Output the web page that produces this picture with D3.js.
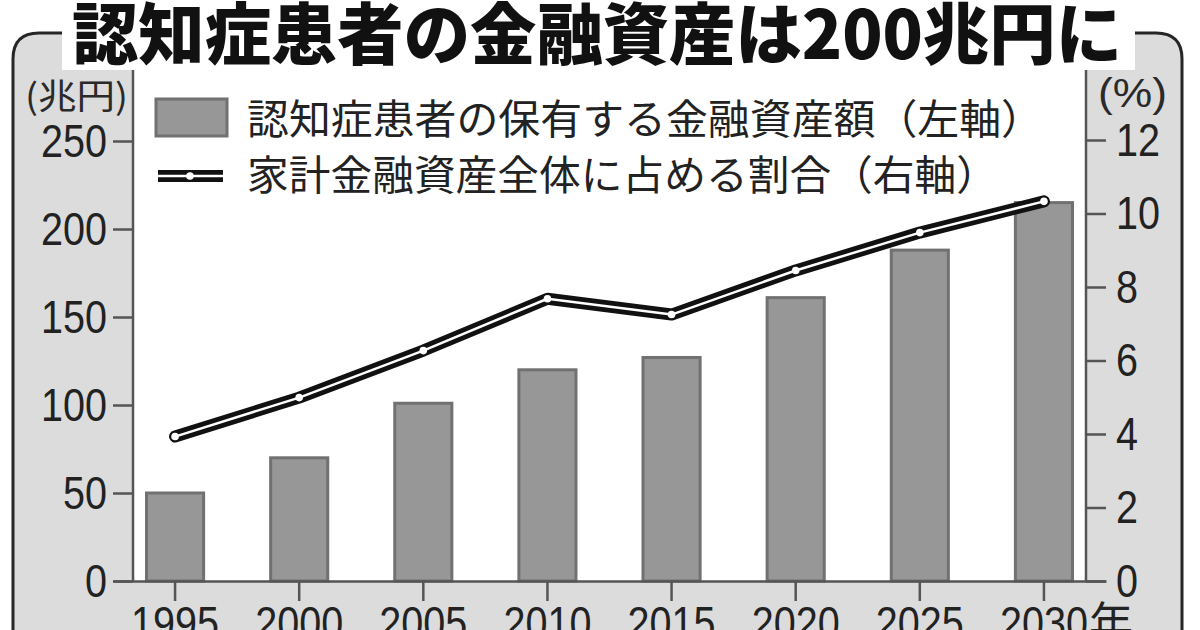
<!DOCTYPE html>
<html>
<head>
<meta charset="utf-8">
<script src="https://cdn.jsdelivr.net/npm/d3@7"></script>
<style>
  html, body { margin: 0; padding: 0; background: #fff; }
  svg { display: block; }
</style>
</head>
<body>
<svg id="chart" width="1200" height="630"></svg>
<script>
// ---- data ----
const years = ["1995", "2000", "2005", "2010", "2015", "2020", "2025", "2030"];
const assets = [50, 70, 101, 120, 127, 161, 188, 215];          // 兆円 (left axis)
const share = [3.93, 4.99, 6.27, 7.68, 7.25, 8.45, 9.48, 10.33]; // % (right axis)
const leftTicks = [0, 50, 100, 150, 200, 250];
const rightTicks = [0, 2, 4, 6, 8, 10, 12];
const titleText = "認知症患者の金融資産は200兆円に";
const legendBar = "認知症患者の保有する金融資産額（左軸）";
const legendLine = "家計金融資産全体に占める割合（右軸）";
const leftUnit = "(兆円)";
const rightUnit = "(%)";
const yearSuffix = "年";

const svg = d3.select("#chart");
const numFont = "'Liberation Sans Narrow','Arial Narrow','Liberation Sans',sans-serif";
const jpFont = "'Noto Sans CJK JP','Noto Sans CJK SC',sans-serif";

// layout
const plot = { left: 133, right: 1086, top: 70, bottom: 581 };

// background
svg.append("rect").attr("width", 1200).attr("height", 630).attr("fill", "#fff");

// outer gray panel with rounded top corners
const px0 = 13, px1 = 1182, py0 = 33, r = 26;
svg.append("path")
  .attr("d", `M${px0},700 L${px0},${py0 + r} Q${px0},${py0} ${px0 + r},${py0} L${px1 - r},${py0} Q${px1},${py0} ${px1},${py0 + r} L${px1},700`)
  .attr("fill", "#dcdcdc").attr("stroke", "#262626").attr("stroke-width", 3);

// white title box
svg.append("rect").attr("x", 62).attr("y", 0).attr("width", 1073).attr("height", plot.top).attr("fill", "#fff");
// white plot area
svg.append("rect").attr("x", plot.left).attr("y", plot.top)
  .attr("width", plot.right - plot.left).attr("height", plot.bottom - plot.top).attr("fill", "#fff");

// scales
const x = d3.scaleBand().domain(years).range([113, 1106]).paddingInner(0.54).paddingOuter(0.27);
const yL = d3.scaleLinear().domain([0, 250]).range([plot.bottom, 141]);
const yR = d3.scaleLinear().domain([0, 12]).range([plot.bottom, 140]);

// bars
svg.append("g").selectAll("rect").data(years).join("rect")
  .attr("x", d => x(d))
  .attr("y", (d, i) => yL(assets[i]))
  .attr("width", x.bandwidth())
  .attr("height", (d, i) => yL(0) - yL(assets[i]))
  .attr("fill", "#979797").attr("stroke", "#717171").attr("stroke-width", 3);

// axes styling helper (condensed numerals)
function styleAxis(g) {
  g.selectAll("path.domain").attr("stroke", "#555").attr("stroke-width", 2.5);
  g.selectAll(".tick line").attr("stroke", "#555").attr("stroke-width", 2.5);
  g.selectAll(".tick text").attr("fill", "#222")
    .style("font-family", numFont).style("font-size", "47px")
    .attr("textLength", function () { return this.textContent.length * 22; })
    .attr("lengthAdjust", "spacingAndGlyphs");
}

// left axis
const gL = svg.append("g").attr("transform", `translate(${plot.left},0)`)
  .call(d3.axisLeft(yL).tickValues(leftTicks).tickSize(20).tickSizeOuter(0).tickPadding(6));
gL.select("path.domain").attr("d", `M0,${plot.top}V${plot.bottom}`);
styleAxis(gL);

// right axis
const gR = svg.append("g").attr("transform", `translate(${plot.right},0)`)
  .call(d3.axisRight(yR).tickValues(rightTicks).tickSize(20).tickSizeOuter(0).tickPadding(10));
gR.select("path.domain").attr("d", `M0,${plot.top}V${plot.bottom}`);
styleAxis(gR);

// bottom axis
const gB = svg.append("g").attr("transform", `translate(0,${plot.bottom})`)
  .call(d3.axisBottom(x).tickSize(20).tickSizeOuter(0).tickPadding(5));
styleAxis(gB);
gB.selectAll(".tick text").attr("dy", "0.71em");
const lastX = x(years[years.length - 1]) + x.bandwidth() / 2;
svg.append("text").attr("x", lastX + 45).attr("y", plot.bottom + 27)
  .attr("dy", "0.71em")
  .style("font-family", jpFont).style("font-size", "44px").attr("fill", "#222")
  .text(yearSuffix);

// units
svg.append("text").attr("x", 25).attr("y", 93).attr("dominant-baseline", "central")
  .attr("textLength", 103).attr("lengthAdjust", "spacingAndGlyphs")
  .style("font-family", jpFont).style("font-size", "35px").attr("fill", "#2a2a2a").text(leftUnit);
svg.append("text").attr("x", 1098).attr("y", 93).attr("dominant-baseline", "central")
  .attr("textLength", 69).attr("lengthAdjust", "spacingAndGlyphs")
  .style("font-family", numFont).style("font-size", "40px").attr("fill", "#2a2a2a").text(rightUnit);

// line (double line: black outer, white inner)
const line = d3.line().x((d, i) => x(years[i]) + x.bandwidth() / 2).y(d => yR(d));
svg.append("path").datum(share).attr("d", line)
  .attr("fill", "none").attr("stroke", "#111").attr("stroke-width", 12)
  .attr("stroke-linejoin", "round").attr("stroke-linecap", "round");
svg.append("path").datum(share).attr("d", line)
  .attr("fill", "none").attr("stroke", "#fff").attr("stroke-width", 2.5)
  .attr("stroke-linejoin", "round").attr("stroke-linecap", "round");
svg.append("g").selectAll("circle").data(share).join("circle")
  .attr("cx", (d, i) => x(years[i]) + x.bandwidth() / 2)
  .attr("cy", d => yR(d)).attr("r", 3.8).attr("fill", "#fff");

// title
svg.append("text").attr("x", 72).attr("y", 59)
  .attr("textLength", 1050).attr("lengthAdjust", "spacingAndGlyphs")
  .style("font-family", jpFont).style("font-size", "67px").style("font-weight", 900)
  .attr("fill", "#111").text(titleText);

// legend
svg.append("rect").attr("x", 156).attr("y", 99).attr("width", 71).attr("height", 37)
  .attr("fill", "#979797").attr("stroke", "#717171").attr("stroke-width", 3);
svg.append("text").attr("x", 247).attr("y", 116).attr("dominant-baseline", "central")
  .attr("textLength", 796).attr("lengthAdjust", "spacingAndGlyphs")
  .style("font-family", jpFont).style("font-size", "41px").attr("fill", "#222").text(legendBar);

svg.append("line").attr("x1", 158).attr("x2", 223).attr("y1", 176).attr("y2", 176)
  .attr("stroke", "#111").attr("stroke-width", 12);
svg.append("line").attr("x1", 158).attr("x2", 223).attr("y1", 176).attr("y2", 176)
  .attr("stroke", "#fff").attr("stroke-width", 2.5);
svg.append("circle").attr("cx", 190).attr("cy", 176).attr("r", 3.8).attr("fill", "#fff");
svg.append("text").attr("x", 247).attr("y", 172).attr("dominant-baseline", "central")
  .attr("textLength", 751).attr("lengthAdjust", "spacingAndGlyphs")
  .style("font-family", jpFont).style("font-size", "41px").attr("fill", "#222").text(legendLine);
</script>
</body>
</html>
